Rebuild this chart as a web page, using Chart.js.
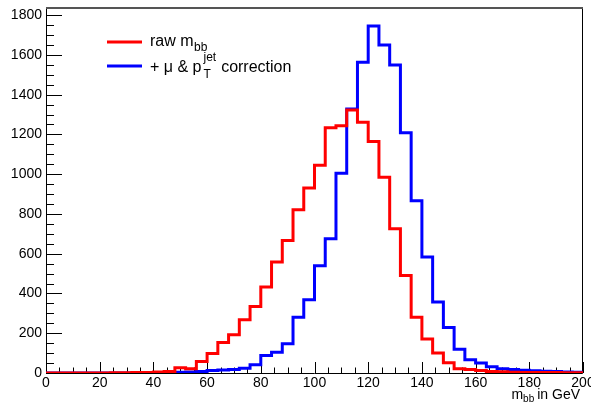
<!DOCTYPE html>
<html>
<head>
<meta charset="utf-8">
<script src="https://cdn.jsdelivr.net/npm/chart.js@4.4.1/dist/chart.umd.min.js"></script>
<style>
  html, body { margin: 0; padding: 0; background: #fff; }
  #wrap { width: 591px; height: 408px; position: relative; }
</style>
</head>
<body>
<div id="wrap"><canvas id="chart"></canvas></div>
<script>
// bin edges of the m_bb histogram (GeV)
const binEdges = [0, 4, 8, 12, 16, 20, 24, 28, 32, 36, 40, 44, 48, 52, 56, 60, 64, 68, 72, 76,
    80, 84, 88, 92, 96, 100, 104, 108, 112, 116, 120, 124, 128, 132, 136, 140, 144, 148, 152, 156,
    160, 164, 168, 172, 176, 180, 184, 188, 192, 196, 200];

// raw m_bb entries per bin
const rawMbb = [0, 0, 0, 0, 0, 0, 1, 1, 2, 3, 5, 8, 26, 22, 58, 98, 154, 192, 268, 335,
    432, 558, 667, 821, 930, 1045, 1234, 1244, 1323, 1261, 1164, 985, 725, 490, 281, 171, 100, 52, 22, 17,
    12, 8, 6, 4, 3, 3, 2, 2, 1, 1];

// + mu & pT(jet) correction entries per bin
const corrMbb = [0, 0, 0, 0, 0, 0, 0, 0, 0, 1, 2, 3, 4, 5, 8, 13, 15, 17, 24, 42,
    88, 105, 147, 281, 368, 539, 675, 1005, 1328, 1563, 1745, 1650, 1549, 1209, 866, 583, 357, 229, 120, 67,
    50, 32, 21, 17, 14, 11, 9, 7, 5, 4];

// labelled ticks
const xTicks = [0, 20, 40, 60, 80, 100, 120, 140, 160, 180, 200];
const yTicks = [0, 200, 400, 600, 800, 1000, 1200, 1400, 1600, 1800];

const xRange = [0, 200];
const yRange = [0, 1836];
const xMinor = 5, yMinor = 50;

const FONT = "'Liberation Sans', Arial, Helvetica, sans-serif";

function histPoints( counts )
{
    const pts = counts.map( ( c, i ) => ( { x: binEdges[ i ], y: c } ) );
    pts.push( { x: binEdges[ binEdges.length - 1 ], y: counts[ counts.length - 1 ] } );
    return pts;
}

// ROOT-like frame with inward ticks, legend and axis title
const rootStyle = {
    id: 'rootStyle',
    beforeDatasetsDraw( chart )
    {
        const { ctx, chartArea: a, scales: { x, y } } = chart;
        ctx.save();
        ctx.strokeStyle = '#000';
        ctx.lineWidth = 1;
        ctx.beginPath();
        ctx.moveTo( a.left + 0.5, a.top );
        ctx.lineTo( a.left + 0.5, a.bottom + 0.5 );
        ctx.lineTo( a.right - 0.5, a.bottom + 0.5 );
        ctx.lineTo( a.right - 0.5, a.top );
        for ( let v = xRange[ 0 ]; v <= xRange[ 1 ]; v += xMinor ) {
            const px = Math.round( x.getPixelForValue( v ) ) + 0.5;
            const len = xTicks.includes( v ) ? 11 : 5.5;
            ctx.moveTo( px, a.bottom );
            ctx.lineTo( px, a.bottom - len );
        }
        for ( let v = 0; v <= yRange[ 1 ]; v += yMinor ) {
            const py = Math.round( y.getPixelForValue( v ) ) + 0.5;
            const len = yTicks.includes( v ) ? 16 : 8;
            ctx.moveTo( a.left, py );
            ctx.lineTo( a.left + len, py );
        }
        ctx.stroke();
        ctx.strokeStyle = '#555';
        ctx.lineWidth = 2;
        ctx.beginPath();
        ctx.moveTo( a.left, a.top );
        ctx.lineTo( a.right, a.top );
        ctx.stroke();
        ctx.restore();
    },
    afterDraw( chart )
    {
        const ctx = chart.ctx;
        ctx.save();
        ctx.fillStyle = '#000';
        ctx.textBaseline = 'alphabetic';
        ctx.textAlign = 'left';

        // legend
        ctx.lineWidth = 3;
        ctx.strokeStyle = '#ff0000';
        ctx.beginPath(); ctx.moveTo( 107, 42 ); ctx.lineTo( 142, 42 ); ctx.stroke();
        ctx.strokeStyle = '#0000ff';
        ctx.beginPath(); ctx.moveTo( 107, 66 ); ctx.lineTo( 142, 66 ); ctx.stroke();

        ctx.font = '16px ' + FONT;
        ctx.fillText( 'raw m', 150, 46 );
        const wRaw = ctx.measureText( 'raw m' ).width;
        ctx.fillText( '+ \u03bc & p', 150, 72 );
        const wP = ctx.measureText( '+ \u03bc & p' ).width;
        ctx.font = '12px ' + FONT;
        ctx.fillText( 'bb', 150 + wRaw + 0.5, 51 );
        const sx = 150 + wP + 2;
        ctx.fillText( 'jet', sx, 61 );
        ctx.fillText( 'T', sx, 78 );
        const wJet = ctx.measureText( 'jet' ).width;
        ctx.font = '16px ' + FONT;
        ctx.fillText( 'correction', sx + wJet + 5, 72 );

        // x axis title, right aligned to the frame
        ctx.font = '14px ' + FONT;
        const wIn = ctx.measureText( 'in GeV' ).width;
        const wM = ctx.measureText( 'm' ).width;
        ctx.font = '10px ' + FONT;
        const wBb = ctx.measureText( 'bb' ).width;
        const inX = 580 - wIn;
        const bbX = inX - 3 - wBb;
        ctx.fillText( 'bb', bbX, 402 );
        ctx.font = '14px ' + FONT;
        ctx.fillText( 'in GeV', inX, 399 );
        ctx.fillText( 'm', bbX - wM, 399 );
        ctx.restore();
    }
};

document.addEventListener( 'DOMContentLoaded', function ()
{
    const ctx = document.getElementById( 'chart' );
    new Chart( ctx, {
        type: 'line',
        data: {
            datasets: [ {
                label: 'raw m_bb',
                data: histPoints( rawMbb ),
                borderColor: '#ff0000',
                borderWidth: 3,
                stepped: true,
                pointRadius: 0,
                fill: false,
                borderJoinStyle: 'miter'
            }, {
                label: '+ mu & pT jet correction',
                data: histPoints( corrMbb ),
                borderColor: '#0000ff',
                borderWidth: 3,
                stepped: true,
                pointRadius: 0,
                fill: false,
                borderJoinStyle: 'miter'
            } ]
        },
        options: {
            responsive: true,
            maintainAspectRatio: false,
            animation: false,
            layout: { padding: { top: 8, right: 8, left: 0, bottom: 0 } },
            plugins: {
                legend: { display: false },
                tooltip: { enabled: false }
            },
            scales: {
                x: {
                    type: 'linear',
                    min: xRange[ 0 ],
                    max: xRange[ 1 ],
                    grid: { display: false, drawTicks: false },
                    border: { display: false },
                    afterBuildTicks( scale )
                    {
                        scale.ticks = xTicks.map( v => ( { value: v } ) );
                    },
                    ticks: {
                        autoSkip: false,
                        maxRotation: 0,
                        padding: 2,
                        color: '#000',
                        font: { family: FONT, size: 14 },
                        callback: v => String( v )
                    },
                    afterFit( scale )
                    {
                        scale.height = 35;
                        scale.paddingLeft = 0;
                        scale.paddingRight = 0;
                    }
                },
                y: {
                    min: yRange[ 0 ],
                    max: yRange[ 1 ],
                    grid: { display: false, drawTicks: false },
                    border: { display: false },
                    afterBuildTicks( scale )
                    {
                        scale.ticks = yTicks.map( v => ( { value: v } ) );
                    },
                    ticks: {
                        autoSkip: false,
                        padding: 4,
                        color: '#000',
                        font: { family: FONT, size: 14 },
                        callback: v => String( v )
                    },
                    afterFit( scale )
                    {
                        scale.width = 46;
                        scale.paddingTop = 0;
                        scale.paddingBottom = 0;
                    }
                }
            }
        },
        plugins: [ rootStyle ]
    } );
} );
</script>
</body>
</html>
